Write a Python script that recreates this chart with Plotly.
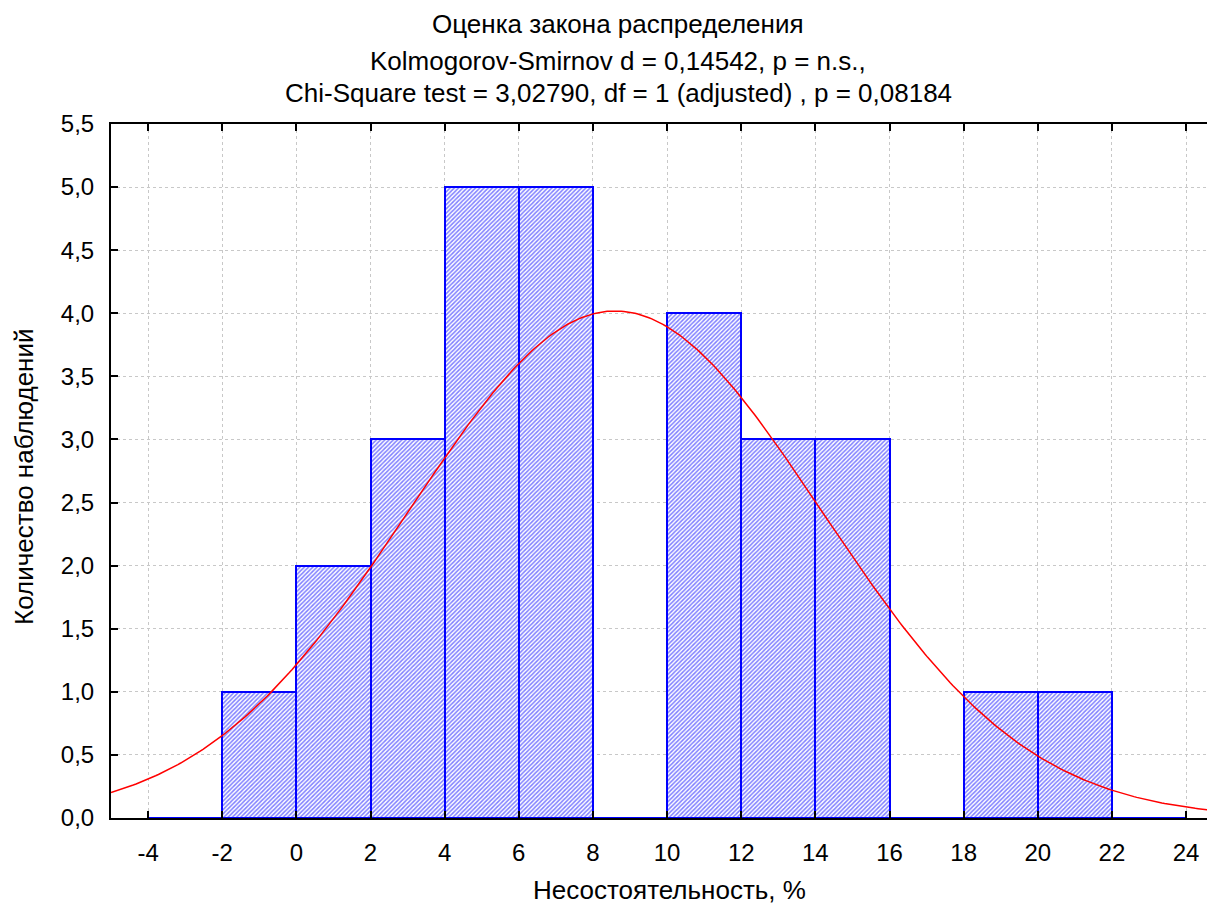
import numpy as np
import plotly.graph_objects as go

# Histogram data (bin left edges, width 2)
bin_left = [-4, -2, 0, 2, 4, 6, 8, 10, 12, 14, 16, 18, 20, 22]
counts = [0, 1, 2, 3, 5, 5, 0, 4, 3, 3, 0, 1, 1, 0]
bin_width = 2

# Fitted normal parameters
fit_mean = 8.6
fit_sd = 5.56
n_obs = sum(counts)

x_ticks = [-4, -2, 0, 2, 4, 6, 8, 10, 12, 14, 16, 18, 20, 22, 24]
y_ticks = [0, 0.5, 1.0, 1.5, 2.0, 2.5, 3.0, 3.5, 4.0, 4.5, 5.0, 5.5]

title_lines = [
    "Оценка закона распределения",
    "Kolmogorov-Smirnov d = 0,14542, p = n.s.,",
    "Chi-Square test = 3,02790, df = 1 (adjusted) , p = 0,08184",
]
x_title = "Несостоятельность, %"
y_title = "Количество наблюдений"

font_family = "Liberation Sans, Arial, sans-serif"

# page body has an 8px margin; work in window pixels and compensate
OFF = 8
W, H = 1215 - OFF, 909 - OFF
L, R, T, B = 111 - OFF, 1215 - OFF, 124 - OFF, 818 - OFF

centers = [b + bin_width / 2 for b in bin_left]
xs = np.linspace(-5, 25, 400)
ys = n_obs * bin_width / (fit_sd * np.sqrt(2 * np.pi)) * np.exp(-(xs - fit_mean) ** 2 / (2 * fit_sd ** 2))

fig = go.Figure()
fig.add_trace(go.Bar(
    x=centers, y=counts, width=bin_width,
    marker=dict(
        color="white",
        line=dict(color="#0000FF", width=2),
        pattern=dict(shape="/", fgcolor="#0000FF", bgcolor="white", size=3, solidity=0.5),
    ),
    showlegend=False,
))
fig.add_trace(go.Scatter(
    x=xs, y=ys, mode="lines", line=dict(color="#FF0000", width=1.5), showlegend=False,
))

axis_common = dict(
    showline=True, linecolor="black", linewidth=2, mirror="ticks",
    ticks="inside", ticklen=7, tickwidth=2, tickcolor="black",
    showgrid=True, gridcolor="#C8C8C8", griddash="dot", gridwidth=1,
    zeroline=False, automargin=False,
    tickfont=dict(family=font_family, size=24, color="black"),
)

fig.update_xaxes(
    range=[-5, 24.78], tickvals=x_ticks, ticktext=[str(v) for v in x_ticks],
    ticklabelstandoff=12,
    **axis_common,
)
fig.update_yaxes(
    range=[0, 5.5], tickvals=y_ticks, tickformat=".1f",
    ticklabelstandoff=10,
    **axis_common,
)

def px_x(p):
    # p in reference (window) pixels
    return (p - OFF - L) / (R - L)

def px_y(p):
    return (B - (p - OFF)) / (B - T)

annotations = []
title_y = [24, 61, 93]
for txt, yp in zip(title_lines, title_y):
    annotations.append(dict(
        text=txt, xref="paper", yref="paper",
        x=px_x(618), y=px_y(yp),
        xanchor="center", yanchor="middle", showarrow=False,
        font=dict(family=font_family, size=26, color="black"),
    ))
annotations.append(dict(
    text=x_title, xref="paper", yref="paper",
    x=px_x(669), y=px_y(890), xanchor="center", yanchor="middle", showarrow=False,
    font=dict(family=font_family, size=26, color="black"),
))
annotations.append(dict(
    text=y_title, xref="paper", yref="paper", textangle=-90,
    x=px_x(24), y=px_y(477), xanchor="center", yanchor="middle", showarrow=False,
    font=dict(family=font_family, size=26, color="black"),
))

fig.update_layout(
    width=W, height=H,
    margin=dict(l=L, r=W - R, t=T, b=H - B),
    paper_bgcolor="white", plot_bgcolor="white",
    separators=", ",
    bargap=0,
    annotations=annotations,
    font=dict(family=font_family, color="black"),
)

fig.write_html("out.html")
